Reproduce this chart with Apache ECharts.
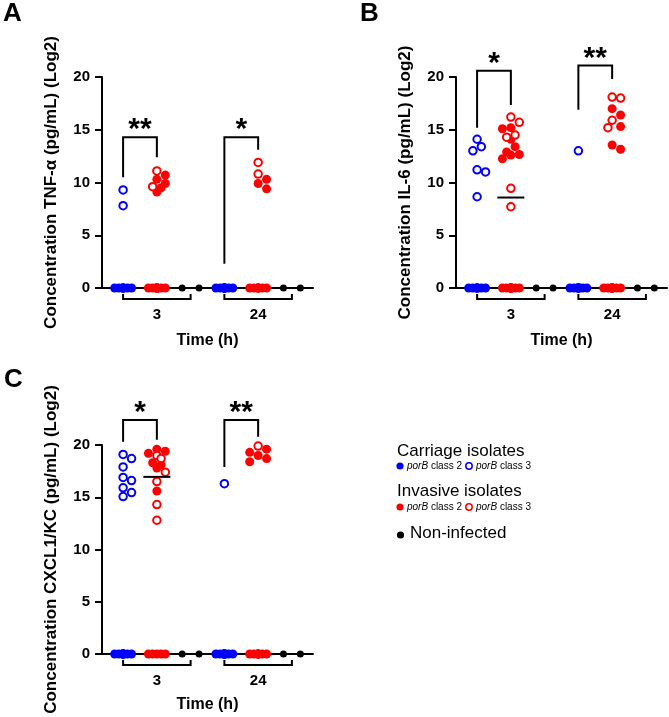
<!doctype html>
<html>
<head>
<meta charset="utf-8">
<title>Cytokine responses</title>
<style>
  html, body { margin: 0; padding: 0; background: #fff; }
  #chart { width: 669px; height: 717px; }
</style>
</head>
<body>
<div id="chart"></div>
<script src="https://cdn.jsdelivr.net/npm/echarts@6/dist/echarts.min.js"></script>
<script>
var timeLabels = ['3', '24'];
var panelLetters = ['A', 'B', 'C'];

// every array is [3 h, 24 h]; 0 = below detection
// porB class 2 = filled, porB class 3 = open
var tnfCarriage2 = [[0, 0, 0, 0, 0, 0, 0, 0], [0, 0, 0, 0, 0, 0, 0, 0, 0, 0]];
var tnfCarriage3 = [[9.3, 7.8], []];
var tnfInvasive2 = [[10.7, 10.3, 9.9, 9.5, 9.1, 0, 0, 0, 0, 0, 0, 0, 0, 0, 0], [10.3, 9.9, 9.4, 0, 0, 0, 0, 0, 0, 0, 0]];
var tnfInvasive3 = [[11.1, 9.6], [11.9, 10.8]];
var tnfControl = [[0, 0], [0, 0]];
var tnfStars = ['**', '*'];
var tnfBracket = [[14.3, 10.5, 12.4], [14.3, 2.3, 13.1]]; // top, left end, right end

var il6Carriage2 = [[0, 0, 0, 0, 0, 0, 0, 0], [0, 0, 0, 0, 0, 0, 0, 0, 0, 0]];
var il6Carriage3 = [[14.1, 13.4, 13.0, 11.2, 11.0, 8.65], [13.0]];
var il6Invasive2 = [[15.2, 15.1, 14.1, 13.4, 12.9, 12.65, 12.6, 12.25, 0, 0, 0, 0, 0, 0, 0, 0, 0, 0, 0, 0],
                    [17.0, 16.4, 15.3, 13.55, 13.15, 0, 0, 0, 0, 0, 0, 0, 0, 0, 0]];
var il6Invasive3 = [[16.2, 15.7, 14.5, 14.3, 9.45, 7.7], [18.1, 18.0, 15.9, 15.2]];
var il6Control = [[0, 0], [0, 0]];
var il6Stars = ['*', '**'];
var il6Bracket = [[20.6, 15.2, 17.35], [21.1, 16.9, 19.8]];

var kcCarriage2 = [[0, 0, 0, 0, 0, 0, 0, 0, 0, 0], [0, 0, 0, 0, 0, 0, 0, 0, 0, 0]];
var kcCarriage3 = [[19.1, 18.7, 17.9, 16.9, 16.6, 15.9, 15.45, 15.07], [16.3]];
var kcInvasive2 = [[19.6, 19.4, 19.2, 18.3, 18.1, 17.8, 15.6, 0, 0, 0, 0, 0], [19.6, 19.3, 19.0, 18.7, 18.4, 0, 0, 0, 0, 0, 0, 0, 0]];
var kcInvasive3 = [[19.0, 18.7, 17.4, 16.5, 14.3, 12.8], [19.9]];
var kcControl = [[0, 0], [0, 0]];
var kcStars = ['*', '**'];
var kcBracket = [[22.4, 20.3, 20.5], [22.4, 17.9, 20.8]];

var panels = [
  { title: 'Concentration TNF-\u03b1 (pg/mL) (Log2)', c2: tnfCarriage2, c3: tnfCarriage3, i2: tnfInvasive2, i3: tnfInvasive3, ctrl: tnfControl, stars: tnfStars, bracket: tnfBracket },
  { title: 'Concentration IL-6 (pg/mL) (Log2)', c2: il6Carriage2, c3: il6Carriage3, i2: il6Invasive2, i3: il6Invasive3, ctrl: il6Control, stars: il6Stars, bracket: il6Bracket },
  { title: 'Concentration CXCL1/KC (pg/mL) (Log2)', c2: kcCarriage2, c3: kcCarriage3, i2: kcInvasive2, i3: kcInvasive3, ctrl: kcControl, stars: kcStars, bracket: kcBracket }
];

var FONT = '"Liberation Sans", Arial, Helvetica, sans-serif';
var BLUE = '#0000ff', RED = '#ff0000';
var grids = [
  { left: 102, top: 77, width: 211, height: 211 },
  { left: 456, top: 77, width: 211, height: 211 },
  { left: 102, top: 445, width: 211, height: 209 }
];
var xNameGap = [45, 45, 43];
var xMax = 25, timeStep = 12, colCarriage = 2.5, colInvasive = 6.5, colControl = [9.5, 11.5], groupEnd = 10.5;

// simple beeswarm: spread points sideways when they collide
function swarm(points, center, xPx, yPx) {
  var step = 0.5, minDist = 8;
  var cands = [0, 1, -1, 2, -2];
  var order = points.map(function (p, i) { return i; })
    .sort(function (a, b) { return points[b].v - points[a].v; });
  var placed = [], xs = [];
  function nearest(k, v) {
    var d = Infinity;
    placed.forEach(function (q) {
      d = Math.min(d, Math.hypot((k - q.k) * step * xPx, (v - q.v) * yPx));
    });
    return d;
  }
  order.forEach(function (i) {
    var v = points[i].v, pick = null;
    for (var c = 0; c < cands.length; c++) {
      if (nearest(cands[c], v) >= minDist) { pick = cands[c]; break; }
    }
    if (pick === null) {
      var best = -1;
      [0, 1, -1].forEach(function (k) {
        var d = nearest(k, v);
        if (d > best + 0.01) { best = d; pick = k; }
      });
    }
    placed.push({ k: pick, v: v });
    xs[i] = center + pick * step;
  });
  return xs;
}

function median(arr) {
  var s = arr.slice().sort(function (a, b) { return a - b; });
  var n = s.length;
  if (!n) return 0;
  return n % 2 ? s[(n - 1) / 2] : (s[n / 2 - 1] + s[n / 2]) / 2;
}

var option = {
  animation: false,
  backgroundColor: '#fff',
  grid: [], xAxis: [], yAxis: [], series: [],
  graphic: []
};

panels.forEach(function (P, p) {
  var g = grids[p];
  var xPx = g.width / xMax, yPx = g.height / 20;
  option.grid.push({ left: g.left, top: g.top, width: g.width, height: g.height, outerBoundsMode: 'none' });
  option.xAxis.push({
    gridIndex: p, type: 'value', min: 0, max: xMax,
    name: 'Time (h)', nameLocation: 'middle', nameGap: xNameGap[p],
    nameTextStyle: { fontFamily: FONT, fontWeight: 'bold', fontSize: 16, color: '#000' },
    axisLine: { show: true, onZero: true, lineStyle: { color: '#000', width: 2 } },
    axisTick: { show: false }, axisLabel: { show: false }, splitLine: { show: false }
  });
  option.yAxis.push({
    gridIndex: p, type: 'value', min: 0, max: 20, interval: 5,
    name: P.title, nameLocation: 'middle', nameGap: 42, nameRotate: 90,
    nameTextStyle: { fontFamily: FONT, fontWeight: 'bold', fontSize: 17, color: '#000' },
    axisLine: { show: true, lineStyle: { color: '#000', width: 2 } },
    axisTick: { show: true, length: 7, lineStyle: { color: '#000', width: 2 } },
    axisLabel: { margin: 12, fontFamily: FONT, fontWeight: 'bold', fontSize: 15, color: '#000' },
    splitLine: { show: false }
  });

  var fillB = [], openB = [], fillR = [], openR = [], ctrl = [], meds = [];
  function addGroup(filled, open, center, fOut, oOut) {
    var pts = filled.map(function (v) { return { v: v, f: true }; })
      .concat(open.map(function (v) { return { v: v, f: false }; }));
    var xs = swarm(pts, center, xPx, yPx);
    pts.forEach(function (pt, i) { (pt.f ? fOut : oOut).push([xs[i], pt.v]); });
    var m = median(filled.concat(open));
    if (m > 0) meds.push([center, m]);
  }
  timeLabels.forEach(function (lab, t) {
    var base = t * timeStep;
    addGroup(P.c2[t], P.c3[t], base + colCarriage, fillB, openB);
    addGroup(P.i2[t], P.i3[t], base + colInvasive, fillR, openR);
    P.ctrl[t].forEach(function (v, j) { ctrl.push([base + colControl[j], v]); });
  });

  function scatter(data, color, open) {
    return {
      type: 'scatter', xAxisIndex: p, yAxisIndex: p, data: data, silent: true,
      symbol: 'circle', symbolSize: open ? 7.5 : 9, z: 3,
      itemStyle: open ? { color: '#fff', borderColor: color, borderWidth: 2, opacity: 1 } : { color: color, opacity: 1 }
    };
  }
  option.series.push(scatter(fillB, BLUE, false));
  option.series.push(scatter(fillR, RED, false));
  option.series.push(scatter(openB, BLUE, true));
  option.series.push(scatter(openR, RED, true));
  option.series.push({
    type: 'scatter', xAxisIndex: p, yAxisIndex: p, data: ctrl, silent: true,
    symbol: 'circle', symbolSize: 7, itemStyle: { color: '#000', opacity: 1 }, z: 3
  });

  // medians
  option.series.push({
    type: 'custom', xAxisIndex: p, yAxisIndex: p, clip: false, silent: true, z: 6,
    data: meds,
    renderItem: function (params, api) {
      var a = api.coord([api.value(0) - 1.6, api.value(1)]);
      var b = api.coord([api.value(0) + 1.6, api.value(1)]);
      return { type: 'line', shape: { x1: a[0], y1: a[1], x2: b[0], y2: b[1] }, style: { stroke: '#000', lineWidth: 2 } };
    }
  });

  // significance brackets
  option.series.push({
    type: 'custom', xAxisIndex: p, yAxisIndex: p, clip: false, silent: true, z: 6,
    data: P.stars.map(function (s, t) { return [t * timeStep + colCarriage, P.bracket[t][0]]; }),
    renderItem: function (params, api) {
      var t = params.dataIndex, b = P.bracket[t], base = t * timeStep;
      var L = api.coord([base + colCarriage, b[1]]);
      var TL = api.coord([base + colCarriage, b[0]]);
      var TR = api.coord([base + colInvasive, b[0]]);
      var R = api.coord([base + colInvasive, b[2]]);
      return {
        type: 'group', children: [
          { type: 'polyline', shape: { points: [L, TL, TR, R] }, style: { stroke: '#000', lineWidth: 2, fill: null } },
          { type: 'text', x: (TL[0] + TR[0]) / 2, y: TL[1] - 7,
            style: { text: P.stars[t], font: 'bold 30px ' + FONT, fill: '#000', align: 'center', verticalAlign: 'middle' } }
        ]
      };
    }
  });

  // time groups under the axis
  option.series.push({
    type: 'custom', xAxisIndex: p, yAxisIndex: p, clip: false, silent: true, z: 6,
    data: timeLabels.map(function (l, t) { return [t * timeStep + colInvasive, 0]; }),
    renderItem: function (params, api) {
      var t = params.dataIndex, base = t * timeStep;
      var a = api.coord([base + colCarriage, 0]), b = api.coord([base + groupEnd, 0]);
      var c = api.coord([base + colInvasive, 0]);
      var y0 = a[1];
      return {
        type: 'group', children: [
          { type: 'polyline', shape: { points: [[a[0], y0 + 6], [a[0], y0 + 11], [b[0], y0 + 11], [b[0], y0 + 6]] },
            style: { stroke: '#000', lineWidth: 2, fill: null } },
          { type: 'text', x: c[0], y: y0 + 27,
            style: { text: timeLabels[t], font: 'bold 15px ' + FONT, fill: '#000', align: 'center', verticalAlign: 'middle' } }
        ]
      };
    }
  });
});

// panel letters
var letterPos = [[3, 14], [360, 14], [4, 380]];
panelLetters.forEach(function (l, i) {
  option.graphic.push({ type: 'text', x: letterPos[i][0], y: letterPos[i][1],
    style: { text: l, font: 'bold 26px ' + FONT, fill: '#000', verticalAlign: 'middle' } });
});

// legend
function legendTitle(text, y) {
  option.graphic.push({ type: 'text', x: 397, y: y, style: { text: text, font: '17px ' + FONT, fill: '#000', verticalAlign: 'middle' } });
}
function legendRow(color, y) {
  option.graphic.push({ type: 'circle', shape: { cx: 400, cy: y, r: 3.6 }, style: { fill: color } });
  option.graphic.push({ type: 'circle', shape: { cx: 469, cy: y, r: 3.2 }, style: { fill: '#fff', stroke: color, lineWidth: 1.5 } });
  ['2', '3'].forEach(function (k, j) {
    option.graphic.push({ type: 'text', x: j ? 476 : 407, y: y,
      style: { text: '{i|porB} class ' + k, font: '10px ' + FONT, fill: '#000', verticalAlign: 'middle',
        rich: { i: { fontStyle: 'italic', fontSize: 10, fontFamily: FONT } } } });
  });
}
legendTitle('Carriage isolates', 451);
legendRow(BLUE, 466);
legendTitle('Invasive isolates', 491);
legendRow(RED, 507);
option.graphic.push({ type: 'circle', shape: { cx: 400.5, cy: 535, r: 3.6 }, style: { fill: '#000' } });
option.graphic.push({ type: 'text', x: 410, y: 533, style: { text: 'Non-infected', font: '17px ' + FONT, fill: '#000', verticalAlign: 'middle' } });

var chart = echarts.init(document.getElementById('chart'));
chart.setOption(option);
</script>
</body>
</html>
